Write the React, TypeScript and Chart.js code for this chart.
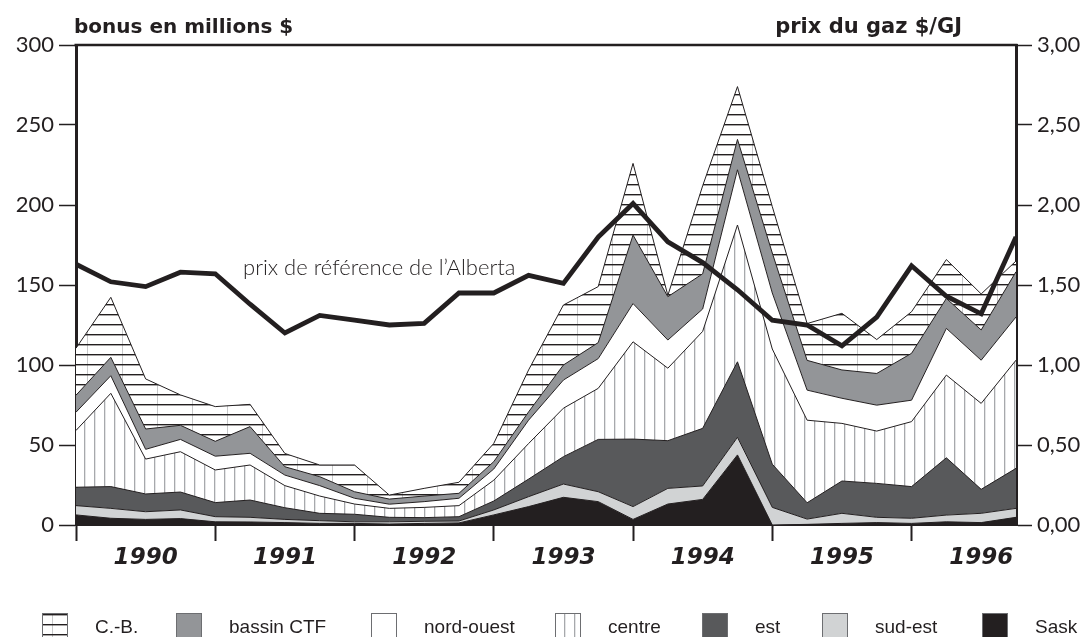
import React, { useEffect, useRef } from 'react';
import { Chart, registerables } from 'chart.js';

Chart.register(...registerables);

// ---------- data (quarterly, 1990 Q1 .. 1996 Q4) ----------
const YEAR_LABELS = ['1990', '1991', '1992', '1993', '1994', '1995', '1996'];
const Y_TICKS = [0, 50, 100, 150, 200, 250, 300];
const PRICE_TICKS = [0, 0.5, 1, 1.5, 2, 2.5, 3];

const SASK = [6.3, 4.2, 3.5, 4, 2, 1.9, 1.5, 1, 1, 0.6, 1, 1.3, 6.3, 11.5, 17.3, 14.6, 3.5, 13.1, 16, 43.8, 0, 0.4, 1, 1.5, 1, 2, 1.5, 4.8];
const SUD_EST = [5.8, 6.2, 4.8, 5.4, 3.2, 2.9, 2, 1.7, 1, 1.4, 1.3, 1.2, 3.1, 6.2, 8.3, 6.2, 8, 9.8, 8.4, 11, 11, 3.3, 6.3, 3.3, 3.2, 4.2, 5.8, 5.6];
const EST = [11.5, 13.6, 11.1, 11.2, 8.8, 10.8, 7.3, 4.6, 4.7, 2.8, 2.3, 2.7, 5.6, 11, 17.1, 32.7, 42.2, 29.8, 36, 47.2, 27, 10.2, 20.2, 21.2, 19.8, 35.8, 15, 25];
const CENTRE = [35.5, 58.3, 21.8, 25.2, 20.4, 21.9, 13.8, 10.8, 6.4, 5.6, 6.4, 6.9, 13, 22.2, 30.3, 31.9, 60.8, 45.3, 60.6, 85.5, 72, 51.6, 36, 32.7, 40.6, 51.7, 53.7, 67.6];
const NORD_OUEST = [11.4, 11, 6.1, 7.7, 8.6, 7.3, 6.6, 6.5, 3.6, 2.6, 3.6, 4.6, 7, 14.6, 17.6, 18.6, 23.9, 17.6, 14, 34.5, 35, 18.8, 15.7, 16.2, 13.4, 29.2, 27, 27];
const BASSIN = [10.6, 11.5, 12.7, 8.8, 9.3, 16.7, 5.2, 5.6, 4.1, 3.2, 3.5, 3.1, 4.6, 5.2, 9.4, 10, 42.8, 27.1, 22, 19, 25, 18.6, 17.7, 19.8, 29.3, 18.7, 18.9, 28.3];
const CB = [29.4, 37.5, 31.3, 19, 21.7, 13.9, 8.3, 7.3, 16.7, 2.5, 4.8, 6.9, 11.4, 26.2, 37.5, 35, 44.8, 0.8, 55, 33, 29, 23, 35.4, 21.2, 26, 24.3, 22.5, 6.7];
const PRICE = [1.63, 1.52, 1.49, 1.58, 1.57, 1.38, 1.2, 1.31, 1.28, 1.25, 1.26, 1.45, 1.45, 1.56, 1.51, 1.8, 2.01, 1.77, 1.64, 1.47, 1.28, 1.25, 1.12, 1.3, 1.62, 1.43, 1.32, 1.8];

const LEFT_TITLE = 'bonus en millions $';
const RIGHT_TITLE = 'prix du gaz $/GJ';
const PRICE_LABEL = 'prix de référence de l’Alberta';
const LEGEND_ORDER = ['C.-B.', 'bassin CTF', 'nord-ouest', 'centre', 'est', 'sud-est', 'Sask'];

const INK = '#231f20';

function makeHatch(ctx: CanvasRenderingContext2D): CanvasPattern {
  const c = document.createElement('canvas');
  c.width = 35;
  c.height = 10;
  const g = c.getContext('2d')!;
  g.fillStyle = '#ffffff';
  g.fillRect(0, 0, 35, 10);
  g.fillStyle = '#c8c9ca';
  g.fillRect(17, 0, 1, 10);
  g.fillStyle = INK;
  g.fillRect(0, 4, 35, 1.4);
  return ctx.createPattern(c, 'repeat')!;
}

function makeVLines(ctx: CanvasRenderingContext2D): CanvasPattern {
  const c = document.createElement('canvas');
  c.width = 10;
  c.height = 10;
  const g = c.getContext('2d')!;
  g.fillStyle = '#ffffff';
  g.fillRect(0, 0, 10, 10);
  g.fillStyle = '#a7a9ac';
  g.fillRect(4, 0, 1.3, 10);
  return ctx.createPattern(c, 'repeat')!;
}

export default function App() {
  const ref = useRef<HTMLCanvasElement>(null);

  useEffect(() => {
    document.body.style.margin = '0';
    const canvas = ref.current!;
    const ctx = canvas.getContext('2d')!;
    const hatch = makeHatch(ctx);
    const vlines = makeVLines(ctx);

    const stack = [
      { label: 'Sask', values: SASK, fill: INK },
      { label: 'sud-est', values: SUD_EST, fill: '#d1d3d4' },
      { label: 'est', values: EST, fill: '#58595b' },
      { label: 'centre', values: CENTRE, fill: vlines },
      { label: 'nord-ouest', values: NORD_OUEST, fill: '#ffffff' },
      { label: 'bassin CTF', values: BASSIN, fill: '#939598' },
      { label: 'C.-B.', values: CB, fill: hatch },
    ];
    const fillOf: Record<string, any> = {};
    stack.forEach((s) => (fillOf[s.label] = s.fill));

    const overlay = {
      id: 'overlay',
      afterDraw(chart: any) {
        const c: CanvasRenderingContext2D = chart.ctx;
        const { left, right, top } = chart.chartArea;
        c.save();
        c.strokeStyle = INK;
        c.lineWidth = 2.5;
        c.beginPath();
        c.moveTo(left - 1.5, top);
        c.lineTo(right + 1.5, top);
        c.stroke();

        c.fillStyle = INK;
        c.textBaseline = 'alphabetic';
        c.font = 'bold 20px "DejaVu Sans"';
        c.textAlign = 'left';
        c.fillText(LEFT_TITLE, 74, 33);
        c.font = 'bold 21px "DejaVu Sans"';
        c.textAlign = 'right';
        c.fillText(RIGHT_TITLE, 962, 33);

        c.font = '300 22px Lato';
        c.textAlign = 'left';
        c.fillText(PRICE_LABEL, 243, 275);

        const boxX = [42, 176, 371, 555, 702, 822, 982];
        c.font = '19px "Liberation Sans"';
        LEGEND_ORDER.forEach((name, k) => {
          const x = boxX[k];
          c.fillStyle = fillOf[name];
          c.fillRect(x, 613, 26, 26);
          c.strokeStyle = '#6d6e71';
          c.lineWidth = 1;
          c.strokeRect(x + 0.5, 613.5, 25, 25);
          c.fillStyle = INK;
          c.fillText(name, x + 53, 633);
        });
        c.restore();
      },
    };

    const chart = new Chart(ctx, {
      type: 'line',
      data: {
        datasets: [
          {
            label: 'prix',
            data: PRICE.map((v, i) => ({ x: i, y: v })),
            yAxisID: 'y2',
            borderColor: INK,
            borderWidth: 4.8,
            borderJoinStyle: 'miter',
            fill: false,
            pointRadius: 0,
            tension: 0,
          } as any,
          ...stack.map((s, k) => ({
            label: s.label,
            data: s.values.map((v, i) => ({ x: i, y: v })),
            yAxisID: 'y',
            backgroundColor: s.fill,
            borderColor: INK,
            borderWidth: 1,
            fill: k === 0 ? 'origin' : '-1',
            pointRadius: 0,
            tension: 0,
          })),
        ],
      },
      options: {
        animation: false,
        responsive: false,
        events: [],
        layout: { padding: { top: 45, left: 0, right: 0, bottom: 0 } },
        plugins: { legend: { display: false }, tooltip: { enabled: false } },
        scales: {
          x: {
            type: 'linear',
            min: 0,
            max: PRICE.length - 1,
            afterBuildTicks: (scale: any) => {
              scale.ticks = YEAR_LABELS.flatMap((_, k) => [{ value: 4 * k }, { value: 4 * k + 2 }]);
            },
            afterFit: (scale: any) => {
              scale.height = 112;
            },
            grid: {
              drawOnChartArea: false,
              tickLength: 16,
              tickWidth: 2,
              tickColor: (c: any) => (c.tick && c.tick.value % 4 === 0 ? INK : 'rgba(0,0,0,0)'),
            },
            border: { display: true, color: INK, width: 2 },
            ticks: {
              autoSkip: false,
              maxRotation: 0,
              padding: 3,
              color: INK,
              font: { family: '"DejaVu Sans"', size: 23, weight: 'bold', style: 'italic' },
              callback: (v: any) => (v % 4 === 2 ? YEAR_LABELS[(v - 2) / 4] : ''),
            },
          },
          y: {
            type: 'linear',
            stacked: true,
            position: 'left',
            min: 0,
            max: 300,
            afterBuildTicks: (scale: any) => {
              scale.ticks = Y_TICKS.map((v) => ({ value: v }));
            },
            afterFit: (scale: any) => {
              scale.width = 76;
            },
            grid: { drawOnChartArea: false, tickLength: 17, tickWidth: 1.5, tickColor: INK },
            border: { display: true, color: INK, width: 3 },
            ticks: {
              padding: 5,
              color: INK,
              font: { family: 'Lato', size: 22 },
              callback: (v: any) => String(v),
            },
          },
          y2: {
            type: 'linear',
            position: 'right',
            min: 0,
            max: 3,
            afterBuildTicks: (scale: any) => {
              scale.ticks = PRICE_TICKS.map((v) => ({ value: v }));
            },
            afterFit: (scale: any) => {
              scale.width = 76;
            },
            grid: { drawOnChartArea: false, tickLength: 16, tickWidth: 1.5, tickColor: INK },
            border: { display: true, color: INK, width: 3 },
            ticks: {
              padding: 5,
              color: INK,
              font: { family: 'Lato', size: 22 },
              callback: (v: any) => Number(v).toFixed(2).replace('.', ','),
            },
          },
        },
      } as any,
      plugins: [overlay],
    });

    return () => chart.destroy();
  }, []);

  return (
    <div style={{ position: 'absolute', left: 0, top: 0, width: 1092, height: 637, background: '#ffffff', overflow: 'hidden' }}>
      <canvas ref={ref} width={1092} height={637} style={{ display: 'block', width: 1092, height: 637 }} />
    </div>
  );
}
